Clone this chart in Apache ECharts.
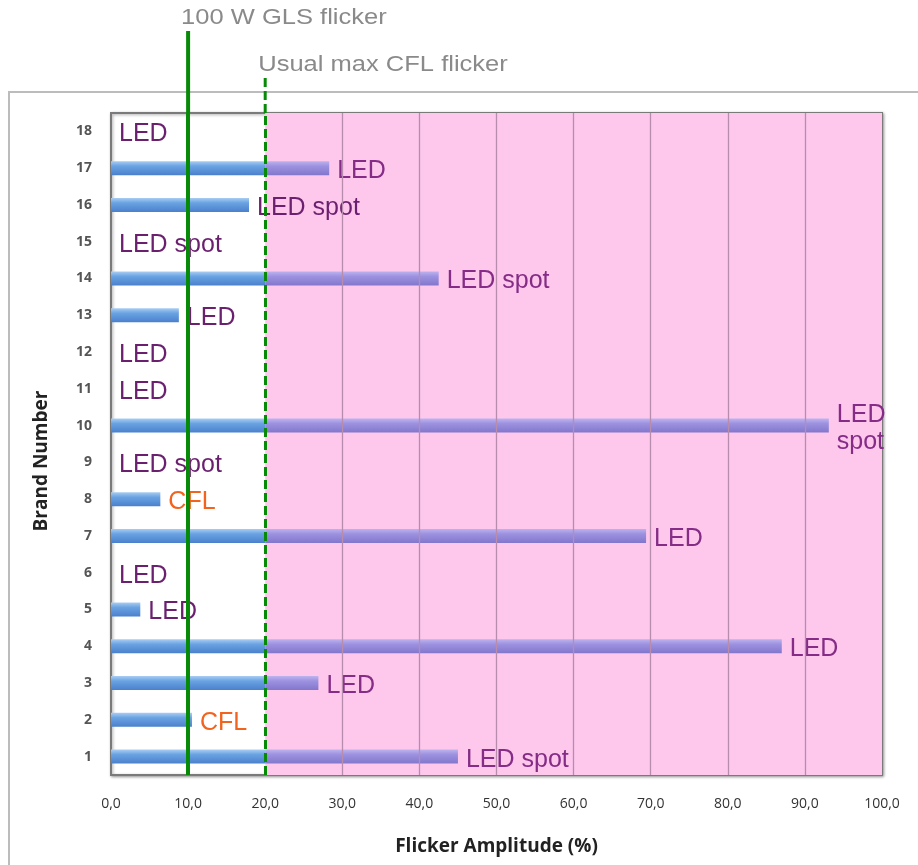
<!DOCTYPE html>
<html>
<head>
<meta charset="utf-8">
<script src="https://cdn.jsdelivr.net/npm/echarts@6/dist/echarts.min.js"></script>
<style>html,body{margin:0;padding:0;background:#fff}#c{width:918px;height:865px}</style>
</head>
<body>
<div id="c"></div>
<script>
// ---- data ----
const categories = ['1','2','3','4','5','6','7','8','9','10','11','12','13','14','15','16','17','18'];
const flicker = [45.0, 10.5, 26.9, 87.0, 3.8, 0, 69.4, 6.4, 0, 93.1, 0, 0, 8.8, 42.5, 0, 17.9, 28.3, 0];
const lampTypes = ['LED spot','CFL','LED','LED','LED','LED','LED','CFL','LED spot','LED\nspot','LED','LED','LED','LED spot','LED spot','LED spot','LED','LED'];
const glsFlicker = 10;
const cflMaxFlicker = 20;
const xTicks = [0,10,20,30,40,50,60,70,80,90,100];
const glsLabel = '100 W GLS flicker';
const cflLabel = 'Usual max CFL flicker';

const belowCfl = flicker.map(v => Math.min(v, cflMaxFlicker));
const aboveCfl = flicker.map(v => Math.max(v - cflMaxFlicker, 0));

const G = {left:111, top:113, right:36, bottom:90};
const chart = echarts.init(document.getElementById('c'));

const blueGrad = new echarts.graphic.LinearGradient(0,0,0,1,[
  {offset:0,color:'#a9cdf2'},{offset:0.35,color:'#6aa3e2'},{offset:1,color:'#4a80cc'}]);
const purpleGrad = new echarts.graphic.LinearGradient(0,0,0,1,[
  {offset:0,color:'#bdb3ee'},{offset:0.35,color:'#9d92e0'},{offset:1,color:'#8276cc'}]);

const option = {
  animation:false,
  grid:{left:G.left, top:G.top, right:G.right, bottom:G.bottom, show:true,
        borderColor:'#7a7a7a', borderWidth:2, backgroundColor:'#fff',
        shadowColor:'rgba(0,0,0,0.35)', shadowBlur:3, shadowOffsetX:1, shadowOffsetY:1},
  xAxis:{type:'value', min:0, max:100, interval:10,
    axisLine:{show:false}, axisTick:{show:false}, splitLine:{show:false},
    axisLabel:{margin:22, color:'#333', fontSize:14, fontFamily:'Open Sans',
      formatter:v => v.toFixed(1).replace('.',',')},
    name:'Flicker Amplitude (%)', nameLocation:'middle', nameGap:62,
    nameTextStyle:{fontFamily:'Open Sans', fontWeight:'bold', fontSize:19, color:'#222'}},
  yAxis:{type:'category', data:categories,
    axisLine:{show:false}, axisTick:{show:false}, splitLine:{show:false},
    axisLabel:{margin:19, color:'#555', fontSize:14, fontWeight:'bold', fontFamily:'Open Sans'},
    name:'Brand Number', nameLocation:'middle', nameGap:60, nameRotate:90,
    nameTextStyle:{fontFamily:'Open Sans', fontWeight:'bold', fontSize:19, color:'#222',
      padding:[0,34,0,0]}},
  series:[
    {type:'line', name:'bg', z:1, data:[], silent:true, symbol:'none',
     markArea:{silent:true, itemStyle:{color:'#fdc8ec'}, data:[[{xAxis:cflMaxFlicker},{xAxis:100}]]},
     markLine:{silent:true, symbol:'none', label:{show:false},
       lineStyle:{color:'#b88cad', width:1.3, type:'solid'},
       data:xTicks.filter(t => t > cflMaxFlicker && t < 100).map(t => ({xAxis:t}))}},
    {type:'bar', name:'below', stack:'f', z:2, data:belowCfl, barWidth:14,
     itemStyle:{color:blueGrad, shadowColor:'rgba(0,0,0,0.25)', shadowBlur:3, shadowOffsetY:2}},
    {type:'bar', name:'above', stack:'f', z:2, data:aboveCfl, barWidth:14,
     itemStyle:{color:purpleGrad, shadowColor:'rgba(0,0,0,0.25)', shadowBlur:3, shadowOffsetY:2}},
    {type:'bar', name:'labels', z:3, barWidth:14, barGap:'-100%',
     itemStyle:{color:'rgba(0,0,0,0)'},
     data:flicker.map((v,i) => ({
       value:v,
       label:{color: lampTypes[i] === 'CFL' ? '#f2641e' : (v > cflMaxFlicker ? '#842c86' : '#6a1f6f')}
     })),
     label:{show:true, position:'right', distance:8, offset:[0,3],
       fontFamily:'Liberation Sans', fontSize:25, lineHeight:27,
       formatter:p => lampTypes[p.dataIndex]}
    },
    {type:'line', name:'refs', z:5, data:[], silent:true, symbol:'none',
     markLine:{silent:true, symbol:'none', label:{show:false},
       data:[
         {xAxis:glsFlicker, lineStyle:{color:'#078a07', width:4, type:'solid'}},
         {xAxis:cflMaxFlicker, lineStyle:{color:'#078a07', width:3, type:[9,4]}}
       ]}}
  ]
};
chart.setOption(option);

const xg = chart.convertToPixel({xAxisIndex:0}, glsFlicker);
const xc = chart.convertToPixel({xAxisIndex:0}, cflMaxFlicker);
chart.setOption({graphic:[
  {type:'rect', z:-10, silent:true, shape:{x:9, y:92, width:1000, height:1000},
   style:{fill:'none', stroke:'#bcbcbc', lineWidth:2}},
  {type:'line', z:100, silent:true, shape:{x1:xg, y1:31, x2:xg, y2:G.top},
   style:{stroke:'#078a07', lineWidth:4}},
  {type:'line', z:100, silent:true, shape:{x1:xc, y1:78, x2:xc, y2:G.top},
   style:{stroke:'#078a07', lineWidth:3, lineDash:[9,4]}},
  {type:'text', z:100, silent:true, x:xg - 7, y:18, scaleX:1.16,
   style:{text:glsLabel, fill:'#8a8a8a', font:'22px "Liberation Sans"', verticalAlign:'middle'}},
  {type:'text', z:100, silent:true, x:xc - 7, y:65, scaleX:1.16,
   style:{text:cflLabel, fill:'#8a8a8a', font:'22px "Liberation Sans"', verticalAlign:'middle'}}
]});
</script>
</body>
</html>
